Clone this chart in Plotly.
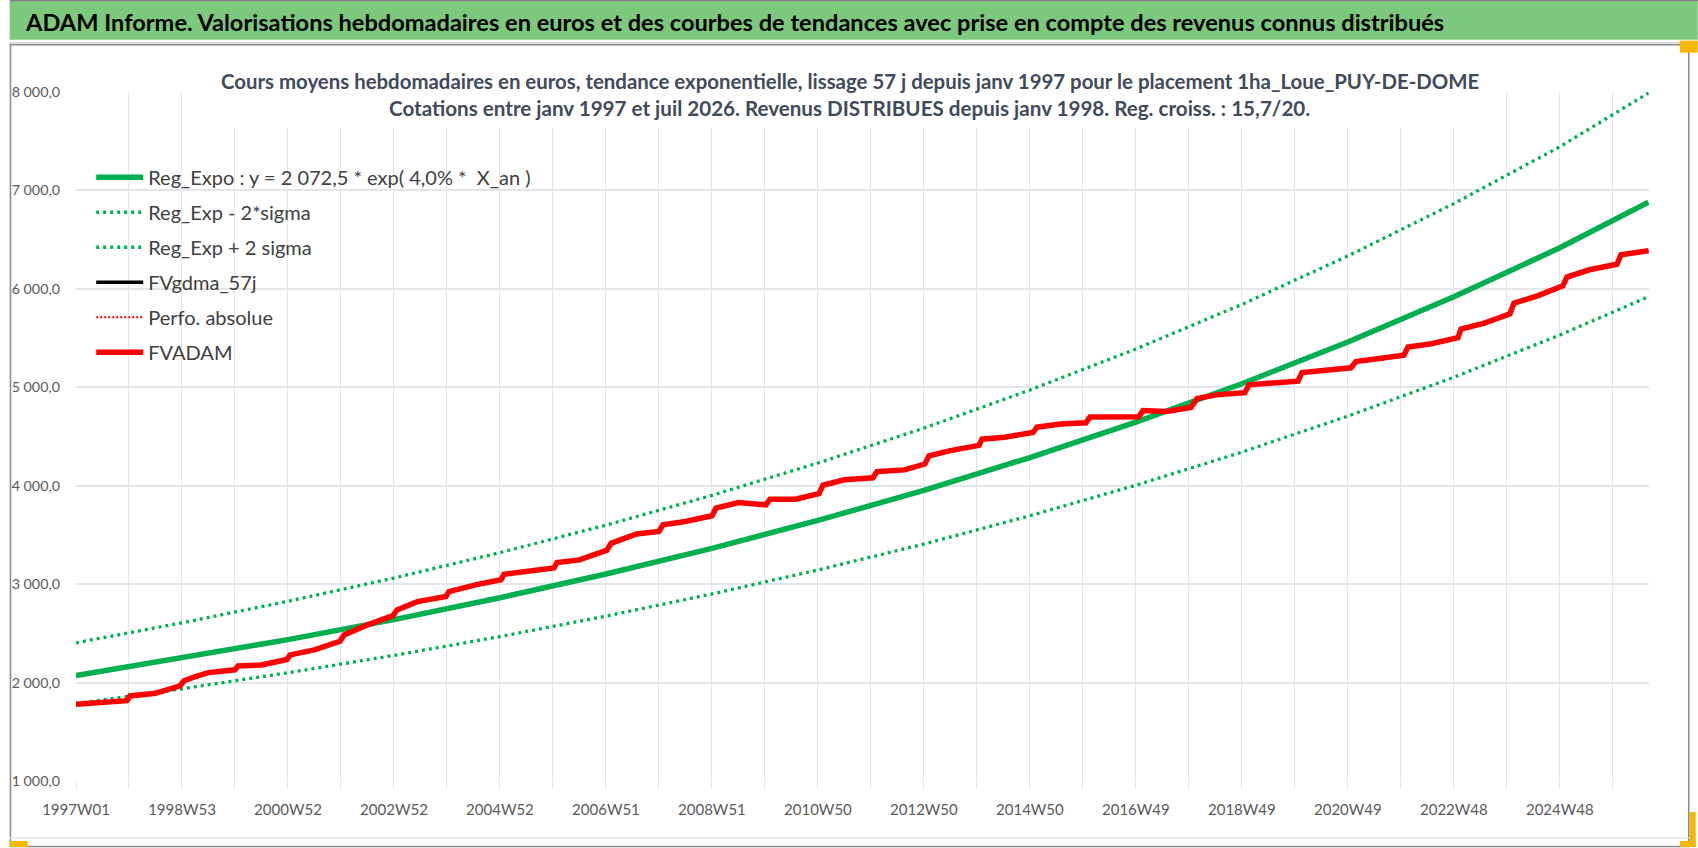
import plotly.graph_objects as go

# Axe X : index de semaine depuis 1997W01, libellés tous les 104 points
tick_weeks = [0, 104, 208, 312, 416, 520, 624, 728, 832, 936, 1040, 1144, 1248, 1352, 1456]
tick_labels = ["1997W01", "1998W53", "2000W52", "2002W52", "2004W52", "2006W51", "2008W51",
               "2010W50", "2012W50", "2014W50", "2016W49", "2018W49", "2020W49", "2022W48", "2024W48"]

# Courbes de tendance
trend_weeks = [0, 104, 208, 312, 416, 520, 624, 728, 832, 936, 1040, 1144, 1248, 1352, 1456, 1543]
reg_expo = [2072, 2247, 2436, 2640, 2862, 3103, 3364, 3647, 3953, 4286, 4646, 5036, 5460, 5919, 6417, 6880]
reg_moins = [1786, 1937, 2100, 2276, 2467, 2675, 2900, 3144, 3407, 3695, 4005, 4341, 4707, 5102, 5531, 5920]
reg_plus = [2404, 2607, 2826, 3062, 3320, 3599, 3902, 4231, 4585, 4972, 5389, 5842, 6334, 6866, 7444, 7990]

# FVADAM : valorisation hebdomadaire avec revenus distribués (marches annuelles)
fv_weeks = [0, 26, 50, 53, 78, 102, 106, 117, 130, 156, 159, 182, 207, 210, 234, 259, 263, 286,
            311, 315, 335, 363, 366, 393, 417, 420, 442, 469, 472, 494, 521, 525, 550, 572, 576,
            598, 624, 628, 650, 677, 681, 706, 729, 733, 754, 782, 786, 813, 833, 837, 858, 886,
            889, 911, 939, 943, 966, 991, 995, 1021, 1043, 1047, 1070, 1094, 1100, 1119, 1147,
            1151, 1174, 1199, 1203, 1226, 1251, 1256, 1278, 1303, 1307, 1330, 1356, 1359, 1382,
            1407, 1411, 1434, 1459, 1463, 1485, 1512, 1516, 1531, 1543]
fv_adam = [1780, 1796, 1816, 1864, 1891, 1966, 2019, 2060, 2101, 2130, 2169, 2179, 2235, 2281,
           2332, 2420, 2484, 2586, 2680, 2738, 2822, 2875, 2924, 2995, 3045, 3100, 3127, 3165,
           3219, 3246, 3345, 3415, 3510, 3536, 3602, 3636, 3695, 3772, 3829, 3805, 3863, 3863,
           3920, 4005, 4060, 4080, 4144, 4161, 4220, 4303, 4357, 4410, 4473, 4493, 4540, 4595,
           4626, 4640, 4697, 4703, 4700, 4764, 4754, 4795, 4885, 4923, 4945, 5025, 5042, 5062,
           5150, 5170, 5198, 5262, 5286, 5325, 5408, 5442, 5505, 5591, 5652, 5745, 5855, 5929,
           6030, 6120, 6194, 6250, 6347, 6370, 6387]

W, H = 1698, 848
PL, PR, PT, PB = 66.7, 1649, 92.3, 781  # zone de tracé en pixels


def px_x(x):
    return (x - PL) / (PR - PL)


def px_y(y):
    return (PB - y) / (PB - PT)


GREEN = "#00b050"
GRID = "#e2e5ea"
TXT = "#595959"
FONT = "Lato"

fig = go.Figure()

fig.add_trace(go.Scatter(
    x=trend_weeks, y=reg_expo, mode="lines", legendgroup="a",
    name="Reg_Expo : y = 2 072,5 * exp( 4,0% *\u00a0 X_an )",
    line=dict(color=GREEN, width=5.5)
))
fig.add_trace(go.Scatter(
    x=trend_weeks, y=reg_moins, mode="lines", legendgroup="b",
    name="Reg_Exp - 2*sigma",
    line=dict(color=GREEN, width=3.3, dash="3px,4px")
))
fig.add_trace(go.Scatter(
    x=trend_weeks, y=reg_plus, mode="lines", legendgroup="c",
    name="Reg_Exp + 2 sigma",
    line=dict(color=GREEN, width=3.3, dash="3px,4px")
))
fig.add_trace(go.Scatter(
    x=fv_weeks, y=fv_adam, mode="lines", legendgroup="d",
    name="FVgdma_57j",
    line=dict(color="black", width=3.5)
))
fig.add_trace(go.Scatter(
    x=fv_weeks, y=fv_adam, mode="lines", legendgroup="e",
    name="Perfo. absolue",
    line=dict(color="red", width=2, dash="2px,2px")
))
fig.add_trace(go.Scatter(
    x=fv_weeks, y=fv_adam, mode="lines", legendgroup="f",
    name="FVADAM",
    line=dict(color="#ff0000", width=5.5)
))

shapes = [
    # bandeau vert
    dict(type="rect", xref="paper", yref="paper", x0=px_x(0), x1=px_x(W), y0=px_y(40), y1=px_y(0),
         fillcolor="#7cc87c", line=dict(width=0), layer="below"),
    dict(type="line", xref="paper", yref="paper", x0=px_x(0), x1=px_x(W), y0=px_y(0.8), y1=px_y(0.8),
         line=dict(color="#808080", width=1.6)),
    dict(type="line", xref="paper", yref="paper", x0=px_x(0), x1=px_x(W), y0=px_y(43), y1=px_y(43),
         line=dict(color="#d9d9d9", width=2)),
    # cadre du graphique
    dict(type="rect", xref="paper", yref="paper", x0=px_x(0.8), x1=px_x(1689), y0=px_y(846.5), y1=px_y(45),
         line=dict(color="#8c8c8c", width=1.6)),
    dict(type="line", xref="paper", yref="paper", x0=px_x(0), x1=px_x(1689), y0=px_y(838), y1=px_y(838),
         line=dict(color="#e3e3e3", width=1.5)),
    # poignées de sélection
    dict(type="rect", xref="paper", yref="paper", x0=px_x(0), x1=px_x(18), y0=px_y(847), y1=px_y(841),
         fillcolor="#f5b800", line=dict(width=0)),
    dict(type="rect", xref="paper", yref="paper", x0=px_x(1690), x1=px_x(1696), y0=px_y(847), y1=px_y(812),
         fillcolor="#f5b800", line=dict(width=0)),
    dict(type="rect", xref="paper", yref="paper", x0=px_x(1680), x1=px_x(1696), y0=px_y(847), y1=px_y(841),
         fillcolor="#f5b800", line=dict(width=0)),
    dict(type="rect", xref="paper", yref="paper", x0=px_x(1680), x1=px_x(1698), y0=px_y(53), y1=px_y(41),
         fillcolor="#f5b800", line=dict(width=0)),
    # fond blanc du titre (masque la grille)
    dict(type="rect", xref="x", yref="y", x0=140.8, x1=1378.7, y0=7637, y1=8100,
         fillcolor="white", line=dict(width=0), layer="between"),
]

annotations = [
    dict(xref="paper", yref="paper", x=px_x(13), y=px_y(22), xanchor="left", yanchor="middle",
         showarrow=False,
         text="<b>ADAM Informe. Valorisations hebdomadaires en euros et des courbes de tendances "
              "avec prise en compte des revenus connus distribués</b>",
         font=dict(family=FONT, size=23.6, color="black")),
    dict(xref="paper", yref="paper", x=px_x(845), y=px_y(81), xanchor="center", yanchor="middle",
         showarrow=False,
         text="<b>Cours moyens hebdomadaires en euros, tendance exponentielle, lissage 57 j depuis "
              "janv 1997 pour le placement 1ha_Loue_PUY-DE-DOME</b>",
         font=dict(family=FONT, size=20.4, color="#404a5a")),
    dict(xref="paper", yref="paper", x=px_x(845), y=px_y(108), xanchor="center", yanchor="middle",
         showarrow=False,
         text="<b>Cotations entre janv 1997 et juil 2026. Revenus DISTRIBUES depuis janv 1998. "
              "Reg. croiss. : 15,7/20.</b>",
         font=dict(family=FONT, size=20.6, color="#404a5a")),
]

fig.update_layout(
    width=W, height=H, autosize=False,
    margin=dict(l=PL, r=W - PR, t=PT, b=H - PB, pad=0),
    paper_bgcolor="white", plot_bgcolor="white",
    separators=", ",
    font=dict(family=FONT, color=TXT),
    showlegend=True,
    legend=dict(
        x=px_x(82), y=px_y(158), xanchor="left", yanchor="top",
        bgcolor="rgba(0,0,0,0)", borderwidth=0,
        font=dict(family=FONT, size=20, color="#404040"),
        traceorder="grouped", tracegroupgap=6, itemwidth=47,
    ),
    shapes=shapes,
    annotations=annotations,
    hovermode=False,
)

fig.update_xaxes(
    range=[0, 1543.5],
    tickmode="array", tickvals=tick_weeks, ticktext=tick_labels,
    showgrid=True, gridcolor=GRID, gridwidth=1.3,
    ticks="outside", ticklen=7, tickcolor=GRID, tickwidth=1.3,
    minor=dict(tickmode="linear", tick0=0, dtick=52, showgrid=True, gridcolor=GRID, gridwidth=1.3,
               ticks="outside", ticklen=7, tickcolor=GRID, tickwidth=1.3),
    tickfont=dict(family=FONT, size=15, color=TXT),
    ticklabelstandoff=8,
    showline=False, zeroline=False,
)
fig.update_yaxes(
    range=[1000, 8000], dtick=1000, tick0=1000, tickformat=",.1f",
    showgrid=True, gridcolor=GRID, gridwidth=2,
    ticks="", showline=False, zeroline=False,
    tickfont=dict(family=FONT, size=14.3, color=TXT),
    ticklabelstandoff=15,
)

fig.write_html("out.html", config={"displayModeBar": False},
               post_script="document.body.style.margin='0';")
